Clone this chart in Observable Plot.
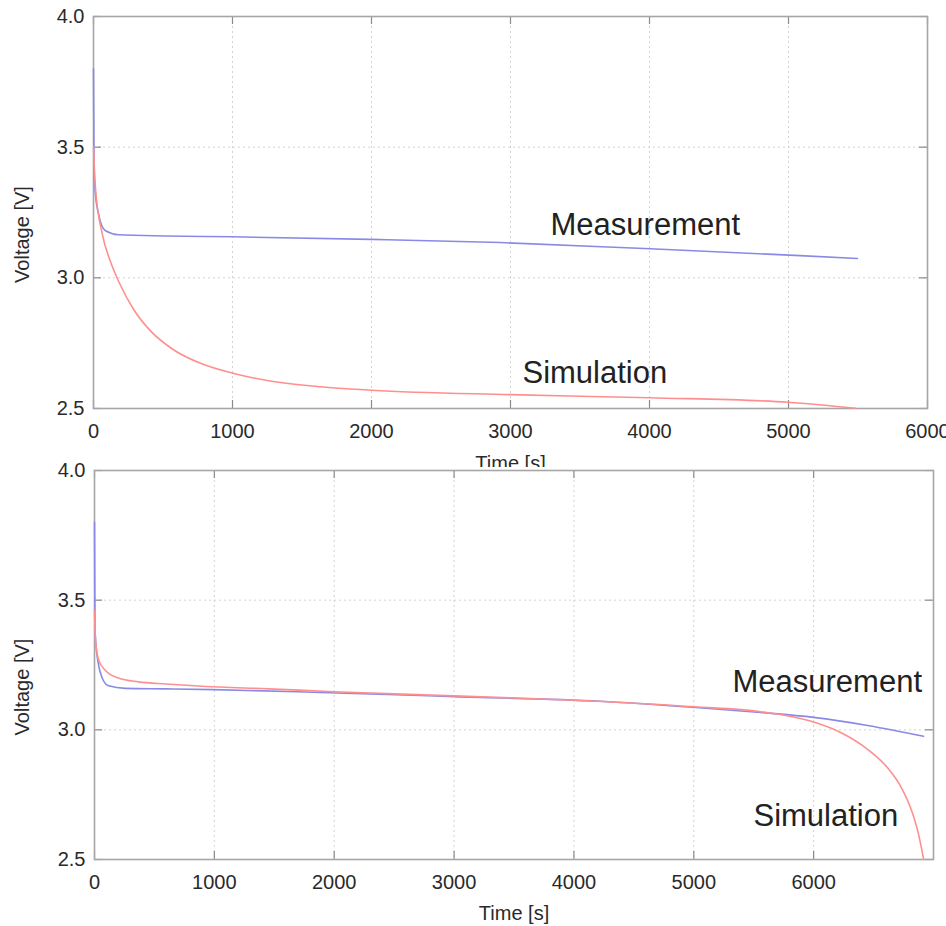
<!DOCTYPE html>
<html>
<head>
<meta charset="utf-8">
<script src="https://cdn.jsdelivr.net/npm/d3@7"></script>
<script src="https://cdn.jsdelivr.net/npm/@observablehq/plot@0.6"></script>
<style>
  html, body { margin: 0; padding: 0; background: #fff; }
  #wrap { position: relative; width: 946px; height: 926px; overflow: hidden; }
  #top { position: absolute; left: 0; top: 0; width: 946px; height: 467px; overflow: hidden; }
  #bottom { position: absolute; left: 0; top: 456px; width: 946px; height: 470px; }
  svg { display: block; }
</style>
</head>
<body>
<div id="wrap"><div id="top"></div><div id="bottom"></div></div>
<script>
// ---- Data ----
const yTicks = [2.5, 3.0, 3.5, 4.0];
const xTicksTop = [0, 1000, 2000, 3000, 4000, 5000, 6000];
const xTicksBottom = [0, 1000, 2000, 3000, 4000, 5000, 6000];

// Top panel: Measurement
const measTopT = [0, 4, 12, 36, 86, 180, 518, 1000, 2000, 2928, 4007, 5083, 5496];
const measTopV = [3.80, 3.42, 3.33, 3.245, 3.18, 3.165, 3.16, 3.157, 3.147, 3.135, 3.111, 3.085, 3.074];
// Top panel: Simulation
const simTopT = [0, 14, 63, 120, 182, 290, 410, 578, 770, 1010, 1250, 1633, 2000, 3000, 4000, 5000, 5482];
const simTopV = [3.50, 3.345, 3.168, 3.065, 2.985, 2.878, 2.797, 2.724, 2.673, 2.634, 2.607, 2.583, 2.570, 2.553, 2.541, 2.524, 2.501];

// Bottom panel: Measurement
const measBotT = [0, 4, 12, 30, 64, 117, 258, 592, 1000, 1886, 3000, 4222, 5015, 5557, 6000, 6450, 6917];
const measBotV = [3.80, 3.40, 3.33, 3.26, 3.20, 3.17, 3.16, 3.158, 3.155, 3.144, 3.128, 3.11, 3.086, 3.067, 3.048, 3.017, 2.975];
// Bottom panel: Simulation
const simBotT = [0, 8, 36, 92, 200, 367, 600, 900, 1450, 2000, 3000, 4000, 5000, 5557, 6000, 6225, 6450, 6620, 6725, 6825, 6875, 6918];
const simBotV = [3.46, 3.344, 3.267, 3.229, 3.20, 3.185, 3.177, 3.168, 3.158, 3.147, 3.131, 3.114, 3.089, 3.07, 3.03, 2.99, 2.925, 2.852, 2.783, 2.678, 2.598, 2.50];

// Annotation labels (data-space anchor: left end of baseline)
const notesTopText = ["Measurement", "Simulation"];
const notesTopT = [3288, 3086];
const notesTopV = [3.162, 2.596];
const notesBotText = ["Measurement", "Simulation"];
const notesBotT = [5323, 5498];
const notesBotV = [3.144, 2.631];

const xLabel = "Time [s]";
const yLabel = "Voltage [V]";

// ---- Build tables ----
const rows = (T, V) => T.map((t, i) => ({t, v: V[i]}));
const notes = (S, T, V) => S.map((s, i) => ({s, t: T[i], v: V[i]}));

const FONT = "'Liberation Sans', Arial, Helvetica, sans-serif";
const BLUE = "#8a8ae6";
const RED = "#ff8f8f";

function panel(o) {
  const fh = o.height - o.marginTop - o.marginBottom;
  const fw = o.width - o.marginLeft - o.marginRight;
  return Plot.plot({
    width: o.width, height: o.height,
    marginTop: o.marginTop, marginBottom: o.marginBottom,
    marginLeft: o.marginLeft, marginRight: o.marginRight,
    style: {background: "transparent", fontFamily: FONT, overflow: "visible"},
    x: {domain: o.xDomain},
    y: {domain: [2.5, 4.0]},
    marks: [
      Plot.gridX(o.xTicks, {stroke: "#d2d2d2", strokeOpacity: 1, strokeDasharray: "2,3"}),
      Plot.gridY(yTicks, {stroke: "#d2d2d2", strokeOpacity: 1, strokeDasharray: "2,3"}),
      Plot.tickX(o.xTicks, {x: d => d, insetTop: fh - 8, stroke: "#8a8a8a", strokeWidth: 1.2}),
      Plot.tickX(o.xTicks, {x: d => d, insetBottom: fh - 8, stroke: "#8a8a8a", strokeWidth: 1.2}),
      Plot.tickY(yTicks, {y: d => d, insetRight: fw - 8, stroke: "#8a8a8a", strokeWidth: 1.2}),
      Plot.tickY(yTicks, {y: d => d, insetLeft: fw - 8, stroke: "#8a8a8a", strokeWidth: 1.2}),
      Plot.frame({stroke: "#a6a6a6", strokeWidth: 1.6}),
      Plot.line(o.meas, {x: "t", y: "v", stroke: BLUE, strokeWidth: 1.6, curve: "monotone-x"}),
      Plot.line(o.sim, {x: "t", y: "v", stroke: RED, strokeWidth: 1.6, curve: "monotone-x"}),
      Plot.axisX(o.xTicks, {tickSize: 0, tickPadding: 15, tickFormat: d => String(d), label: null,
        fontSize: 20, fill: "#2a2a2a"}),
      Plot.axisY(yTicks, {tickSize: 0, tickPadding: 9, tickFormat: d => d.toFixed(1), label: null,
        fontSize: 20, fill: "#2a2a2a"}),
      Plot.text([xLabel], {text: d => d, frameAnchor: "bottom", dy: o.xLabelDy, lineAnchor: "top",
        fontSize: 20, fill: "#2a2a2a"}),
      Plot.text([yLabel], {text: d => d, frameAnchor: "left", rotate: -90, dx: o.yLabelDx, dy: 22,
        textAnchor: "middle", lineAnchor: "middle", fontSize: 20, fill: "#2a2a2a"}),
      Plot.text(o.notes, {x: "t", y: "v", text: "s", textAnchor: "start", lineAnchor: "bottom",
        fontSize: 31, fill: "#222"})
    ]
  });
}

document.getElementById("top").appendChild(panel({
  width: 946, height: 467, marginTop: 16, marginBottom: 59, marginLeft: 93, marginRight: 19,
  xDomain: [0, 6000], xTicks: xTicksTop,
  meas: rows(measTopT, measTopV), sim: rows(simTopT, simTopV),
  notes: notes(notesTopText, notesTopT, notesTopV),
  xLabelDy: 47, yLabelDx: -71
}));

document.getElementById("bottom").appendChild(panel({
  width: 946, height: 470, marginTop: 14, marginBottom: 67, marginLeft: 94, marginRight: 13,
  xDomain: [0, 7000], xTicks: xTicksBottom,
  meas: rows(measBotT, measBotV), sim: rows(simBotT, simBotV),
  notes: notes(notesBotText, notesBotT, notesBotV),
  xLabelDy: 46, yLabelDx: -72
}));
</script>
</body>
</html>
